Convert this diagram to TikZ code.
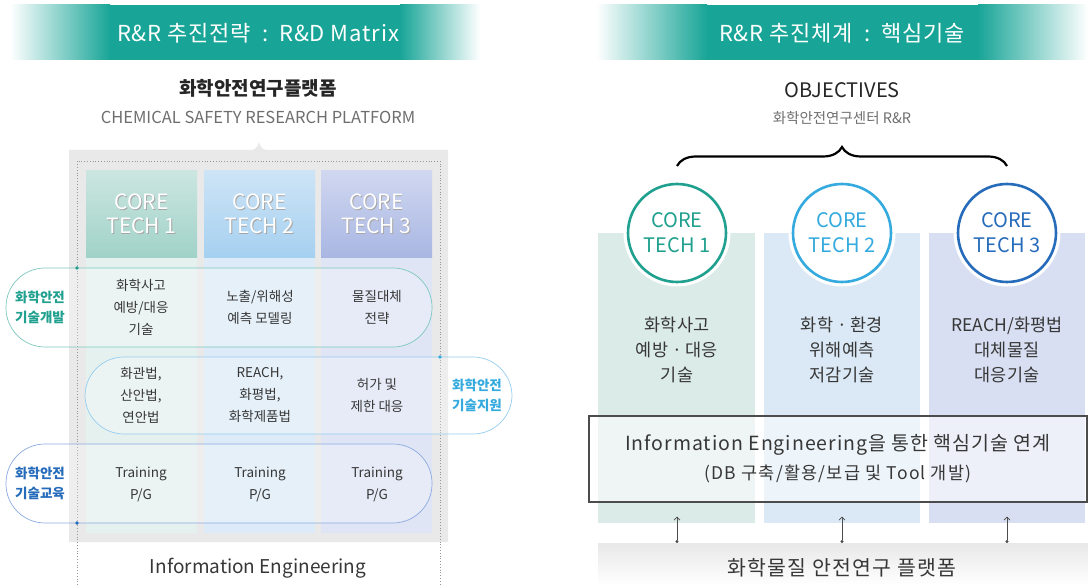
\documentclass[tikz,border=0pt]{standalone}
\usepackage{fontspec}
\setmainfont{Noto Sans CJK KR}
\usepackage{tikz}
\usetikzlibrary{arrows.meta,calc,positioning,decorations.pathreplacing}

\definecolor{rrteal}{RGB}{24,165,151}
\definecolor{tealtxt}{RGB}{32,160,142}
\definecolor{skytxt}{RGB}{52,170,222}
\definecolor{bluetxt}{RGB}{38,108,186}
\definecolor{tealline}{RGB}{125,200,190}
\definecolor{skyline}{RGB}{150,205,240}
\definecolor{blueline}{RGB}{140,170,225}
\definecolor{platgray}{RGB}{233,233,233}
\definecolor{dotgray}{RGB}{150,150,150}
\definecolor{txtgray}{RGB}{55,55,55}
\definecolor{subgray}{RGB}{110,110,110}
\definecolor{head1top}{RGB}{203,230,224}
\definecolor{head1bot}{RGB}{160,210,200}
\definecolor{head2top}{RGB}{205,228,246}
\definecolor{head2bot}{RGB}{165,208,240}
\definecolor{head3top}{RGB}{208,215,240}
\definecolor{head3bot}{RGB}{168,182,226}
\definecolor{body1}{RGB}{229,241,238}
\definecolor{body2}{RGB}{221,235,248}
\definecolor{body3}{RGB}{223,229,245}
\definecolor{rbody1}{RGB}{219,235,231}
\definecolor{rbody2}{RGB}{219,233,246}
\definecolor{rbody3}{RGB}{216,223,242}

\newcommand{\fs}[2]{\fontsize{#1}{#2}\selectfont}
\newcommand{\spaced}[1]{\addfontfeatures{LetterSpace=#1}}

\tikzstyle{banner text}=[text=white,font=\fs{22}{24}\spaced{4}]
\tikzstyle{core head}=[text=white,align=center,font=\fs{21}{24}]
\tikzstyle{cell}=[align=center,text=txtgray,font=\fs{13.5}{22}]
\tikzstyle{side label}=[align=center,font=\fs{13.5}{20}\bfseries]
\tikzstyle{pill}=[rounded corners=39pt,line width=0.7pt,fill=white,fill opacity=0.25]
\tikzstyle{pin dot}=[circle,inner sep=0pt,minimum size=3.6pt]
\tikzstyle{core circle}=[circle,fill=white,minimum size=98pt,inner sep=0pt,line width=2.6pt,align=center,font=\fs{20}{25},preaction={draw=white,line width=9pt}]
\tikzstyle{tech text}=[align=center,text=txtgray,font=\fs{17.5}{25}]
\tikzstyle{iebox}=[draw=black!70,line width=1.2pt,fill=white,fill opacity=0.55,text opacity=1,text=txtgray,minimum width=498pt,minimum height=86pt,align=center,font=\fs{19.5}{29}\spaced{5}]
\tikzstyle{base arrow}=[{Circle[length=3pt]}-{Straight Barb[length=3pt,width=6pt]},black!70,line width=0.7pt,shorten >=14pt]

\begin{document}
\begin{tikzpicture}[x=1pt,y=-1pt]
\useasboundingbox (0,0) rectangle (1088,585);

% title banners
\fill[left color=white,right color=rrteal] (10,5) rectangle (110,60);
\fill[rrteal] (110,5) rectangle (400,60);
\fill[left color=rrteal,right color=white] (400,5) rectangle (480,60);
\node[banner text] (title-L) at (258,33) {R\&R 추진전략\enspace:\enspace R\&D Matrix};

\fill[left color=white,right color=rrteal] (596,5) rectangle (707,60);
\fill[rrteal] (707,5) rectangle (978,60);
\fill[left color=rrteal,right color=white] (978,5) rectangle (1088,60);
\node[banner text] (title-R) at (842,33) {R\&R 추진체계\enspace:\enspace 핵심기술};

%% left: R&D matrix
\node[font=\fs{19}{22}\bfseries,text=black!85] (platform) at (258,88) {화학안전연구플랫폼};
\node[font=\fs{16.5}{18},text=subgray] (platform-en) at (258,117) {CHEMICAL SAFETY RESEARCH PLATFORM};

\fill[platgray] (69,150) -- (251,150) .. controls (256,150) and (258,146) .. (259,142)
    .. controls (260,146) and (262,150) .. (267,150) -- (448,150) -- (448,542) -- (69,542) -- cycle;
\draw[dotgray,dotted,line width=0.8pt] (77,585) -- (77,161) -- (440,161) -- (440,585);

\foreach \name / \xl / \xr in {1/86/197, 2/204/315, 3/321/432}
{
    \fill[body\name] (\xl,258) rectangle (\xr,533);
    \fill[top color=head\name top,bottom color=head\name bot] (\xl,171) rectangle (\xr,258);
    \node[core head,text=black!35] at ({(\xl+\xr)/2+0.8},214.8) {CORE\\TECH \name};
    \node[core head] (H-\name) at ({(\xl+\xr)/2},214) {CORE\\TECH \name};
}

\draw[pill,draw=tealline] (6,268) rectangle (432,347);
\draw[pill,draw=skyline] (85,357) rectangle (512,434);
\draw[pill,draw=blueline] (6,444) rectangle (432,523);
\node[pin dot,fill=tealtxt] (P-1) at (77,268) {};
\node[pin dot,fill=skytxt] (P-2) at (440,357) {};
\node[pin dot,fill=bluetxt] (P-3) at (77,523) {};

\node[side label,text=tealtxt] (S-1) at (40,307) {화학안전\\기술개발};
\node[side label,text=skytxt] (S-2) at (477,395) {화학안전\\기술지원};
\node[side label,text=bluetxt] (S-3) at (40,483) {화학안전\\기술교육};

\node[cell] (R1-1) at (141,307) {화학사고\\예방/대응\\기술};
\node[cell] (R1-2) at (260,307) {노출/위해성\\예측 모델링};
\node[cell] (R1-3) at (377,307) {물질대체\\전략};
\node[cell] (R2-1) at (141,395) {화관법,\\산안법,\\연안법};
\node[cell] (R2-2) at (260,395) {REACH,\\화평법,\\화학제품법};
\node[cell] (R2-3) at (377,395) {허가 및\\제한 대응};
\foreach \name / \x in {1/141, 2/260, 3/377}
    \node[cell] (R3-\name) at (\x,484) {Training\\P/G};

\node[font=\fs{19}{22},text=txtgray] (ie-L) at (258,568) {Information Engineering};

%% right: core technologies
\node[font=\fs{20}{22},text=black!85] (objectives) at (842,90) {OBJECTIVES};
\node[font=\fs{14.5}{18},text=subgray] (center-rr) at (842,118) {화학안전연구센터 R\&R};

\coordinate (brace-L) at (677,166);
\coordinate (brace-R) at (1007,166);
\draw[decorate,decoration={brace,amplitude=19pt},line width=2.2pt] (brace-L) -- (brace-R);

\fill[rbody1] (598,233) rectangle (755,523);
\fill[rbody2] (764,233) rectangle (920,523);
\fill[rbody3] (929,233) rectangle (1085,523);

\node[core circle,draw=tealtxt,text=tealtxt] (C-1) at (677,233) {CORE\\TECH 1};
\node[core circle,draw=skytxt,text=skytxt] (C-2) at (842,233) {CORE\\TECH 2};
\node[core circle,draw=bluetxt,text=bluetxt] (C-3) at (1007,233) {CORE\\TECH 3};

\node[tech text] (T-1) at (677,350) {화학사고\\예방 · 대응\\기술};
\node[tech text] (T-2) at (842,350) {화학 · 환경\\위해예측\\저감기술};
\node[tech text] (T-3) at (1007,350) {REACH/화평법\\대체물질\\대응기술};

\node[iebox] (ie-R) at (838,459) {Information Engineering을 통한 핵심기술 연계\\{\fs{17.5}{20}\spaced{7}(DB 구축/활용/보급 및 Tool 개발)}};

\fill[top color=black!9,bottom color=white] (598,543) rectangle (1088,585);
\node[font=\fs{20.5}{22}\spaced{6},text=txtgray] (base) at (842,568) {화학물질 안전연구 플랫폼};

\foreach \name / \x in {1/677, 2/842, 3/1007}
{
    \coordinate (B-\name) at (\x,543);
    \draw[base arrow] (B-\name) -- (B-\name |- ie-R.south);
}

\end{tikzpicture}
\end{document}
